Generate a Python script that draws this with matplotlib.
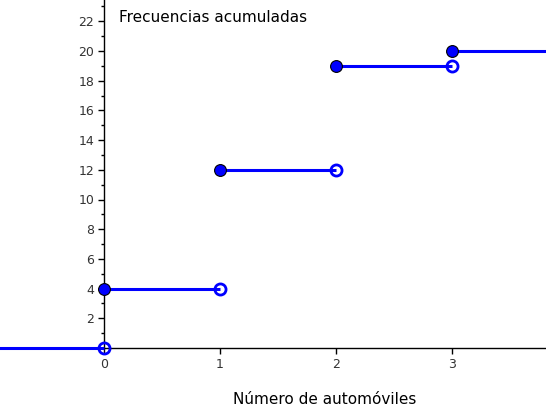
import numpy as np
import matplotlib
matplotlib.use('Agg')
import matplotlib.pyplot as plt
from matplotlib.ticker import FixedLocator

# step function: value on [left, right)
lefts = [-1.0, 0, 1, 2, 3]
rights = [0, 1, 2, 3, 4.0]
values = [0, 4, 12, 19, 20]
closed_left = [False, True, True, True, True]

title = "Frecuencias acumuladas"
xlabel = "Número de automóviles"
blue = (0, 0, 1)

fig = plt.figure(figsize=(5.46, 4.16), dpi=100)
ax = fig.add_axes([0, 0, 1, 1])
ymax = 348/14.85
ax.set_xlim(-104/116, 442/116)
ax.set_ylim(-68/14.85, ymax)

for l, r, v, cl in zip(lefts, rights, values, closed_left):
    ax.plot([l, r], [v, v], color=blue, lw=2.2, solid_capstyle='butt', zorder=3)
    if cl:
        ax.plot(l, v, 'o', ms=8.5, mfc=blue, mec='black', mew=0.8, zorder=5)
    if r < 3.5:
        ax.plot(r, v, 'o', ms=8, mfc='none', mec=blue, mew=2, zorder=5)

for s in ['top', 'right']:
    ax.spines[s].set_visible(False)
ax.spines['left'].set_position(('data', 0))
ax.spines['bottom'].set_position(('data', 0))
ax.spines['left'].set_bounds(0, ymax)
for s in ['left', 'bottom']:
    ax.spines[s].set_color('black')
    ax.spines[s].set_linewidth(1)

ax.set_xticks([0, 1, 2, 3])
ax.set_yticks(np.arange(2, 24, 2))
ax.yaxis.set_minor_locator(FixedLocator(np.arange(1, 24, 2)))
ax.tick_params(axis='both', which='major', direction='out', length=4, width=1,
               labelsize=9, labelcolor='#333333', pad=3)
ax.tick_params(axis='y', which='minor', direction='out', length=2.5, width=1)

ax.text(0.13, 22.25, title, fontsize=11, color='black', va='center', ha='left')
ax.text(1.9, -3.45, xlabel, fontsize=11, color='black', va='center', ha='center')

fig.savefig('out.png', dpi=100)
